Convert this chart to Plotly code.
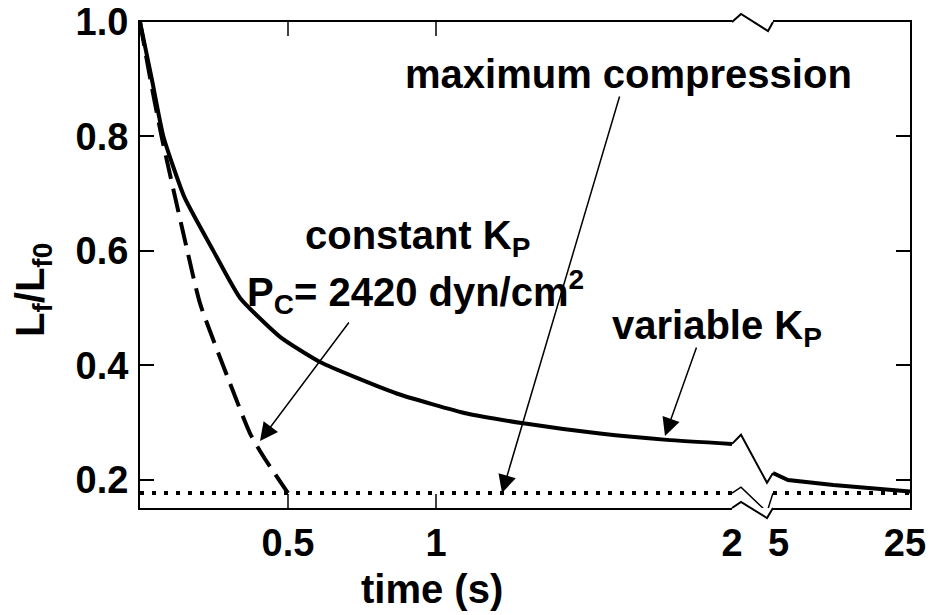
import plotly.graph_objects as go

# ---- data ----
t_var_a = [0, 0.04, 0.079, 0.15, 0.247, 0.338, 0.473, 0.608, 0.867, 1.104, 1.295, 1.554, 1.78, 2.0]
lf_var_a = [1.0, 0.9, 0.8, 0.694, 0.601, 0.518, 0.45, 0.406, 0.351, 0.316, 0.299, 0.281, 0.27, 0.263]
t_var_b = [5, 7.2, 13.8, 19.6, 25]
lf_var_b = [0.212, 0.200, 0.191, 0.186, 0.180]
t_const = [0, 0.035, 0.073, 0.16, 0.203, 0.304, 0.372, 0.417, 0.5]
lf_const = [1.0, 0.9, 0.8, 0.6, 0.508, 0.369, 0.281, 0.241, 0.177]
max_comp = 0.177
t_left_range = [0, 2]
t_right_range = [5, 25]
x_ticks_left = [0.5, 1, 2]
x_ticktext_left = ["0.5", "1", "2"]
x_tickmarks_left = [0.5, 1]
x_ticks_right = [5, 25]
x_ticktext_right = ["&nbsp;&nbsp;5", "25"]
y_ticks = [0.2, 0.4, 0.6, 0.8, 1.0]
y_ticktext = ["0.2", "0.4", "0.6", "0.8", "1.0"]

W, H = 929, 615
L, R, T, B = 140, 19, 22, 107
FONT = "Liberation Sans, Arial, Helvetica, sans-serif"
TICKLEN = 14


def px_x(p):
    return (p - L) / (W - L - R)


def px_y(p):
    return (H - B - p) / (H - T - B)


fig = go.Figure()
blk = "black"
fig.add_trace(go.Scatter(x=t_var_a, y=lf_var_a, xaxis="x", yaxis="y", mode="lines",
                         line=dict(color=blk, width=4, shape="spline", smoothing=0.5)))
fig.add_trace(go.Scatter(x=t_var_b, y=lf_var_b, xaxis="x2", yaxis="y2", mode="lines",
                         line=dict(color=blk, width=4)))
fig.add_trace(go.Scatter(x=t_const, y=lf_const, xaxis="x", yaxis="y", mode="lines",
                         line=dict(color=blk, width=4, dash="24px,10px", shape="spline", smoothing=0.6)))
fig.add_trace(go.Scatter(x=t_left_range, y=[max_comp, max_comp], xaxis="x", yaxis="y", mode="lines",
                         line=dict(color=blk, width=4, dash="4px,8px")))
fig.add_trace(go.Scatter(x=t_right_range, y=[max_comp, max_comp], xaxis="x2", yaxis="y2", mode="lines",
                         line=dict(color=blk, width=4, dash="4px,8px")))

tickfont = dict(family=FONT, size=38, color=blk, weight="bold")
xl_end = px_x(732)
xr_start = px_x(773)

common_x = dict(showline=True, linecolor=blk, linewidth=2, mirror=True, showgrid=False,
                zeroline=False, tickfont=tickfont, ticklabelstandoff=0, ticks="")

fig.update_layout(
    width=W, height=H,
    margin=dict(l=L, r=R, t=T, b=B, autoexpand=False),
    paper_bgcolor="white", plot_bgcolor="white",
    showlegend=False,
    font=dict(family=FONT, color=blk, weight="bold"),
    xaxis=dict(domain=[0, xl_end], range=t_left_range, anchor="y",
               tickmode="array", tickvals=x_ticks_left, ticktext=x_ticktext_left,
               **common_x),
    xaxis2=dict(domain=[xr_start, 1], range=t_right_range, anchor="y2",
                tickmode="array", tickvals=x_ticks_right, ticktext=x_ticktext_right,
                ticklabelshift=-5, **common_x),
    yaxis=dict(domain=[0, 1], range=[0.151, 1.0], anchor="x", side="left",
               tickmode="array", tickvals=y_ticks, ticktext=y_ticktext,
               ticks="inside", ticklen=TICKLEN, tickwidth=1.5, tickcolor=blk,
               showline=True, linecolor=blk, linewidth=2, showgrid=False, zeroline=False,
               tickfont=tickfont, ticklabelstandoff=2),
    yaxis2=dict(domain=[0, 1], matches="y", range=[0.151, 1.0], anchor="x2", side="right",
                tickmode="array", tickvals=y_ticks, showticklabels=False,
                ticks="inside", ticklen=TICKLEN, tickwidth=1.5, tickcolor=blk,
                showline=True, linecolor=blk, linewidth=2, showgrid=False, zeroline=False),
)

shapes = []
# inside tick marks on the bottom and top of the left x axis (only at 0.5 and 1)
tl = TICKLEN / (H - T - B)
for v in x_tickmarks_left:
    shapes.append(dict(type="line", xref="x", yref="paper", x0=v, x1=v, y0=0, y1=tl,
                       line=dict(color=blk, width=1.5)))
    shapes.append(dict(type="line", xref="x", yref="paper", x0=v, x1=v, y0=1, y1=1 - tl,
                       line=dict(color=blk, width=1.5)))
# top frame break
shapes.append(dict(type="path", xref="paper", yref="paper",
                   path=f"M {px_x(732)},{px_y(22)} L {px_x(741)},{px_y(14)} L {px_x(768)},{px_y(31)} L {px_x(773)},{px_y(22)}",
                   line=dict(color=blk, width=2)))
# bottom frame break
shapes.append(dict(type="path", xref="paper", yref="paper",
                   path=f"M {px_x(732)},{px_y(508)} L {px_x(741)},{px_y(502)} L {px_x(767)},{px_y(518)} L {px_x(773)},{px_y(508)}",
                   line=dict(color=blk, width=2)))
# variable Kp curve break
shapes.append(dict(type="path", xref="paper", yref="y",
                   path=f"M {px_x(732)},{lf_var_a[-1]} L {px_x(741)},0.279 L {px_x(767)},0.195 L {px_x(773)},{lf_var_b[0]}",
                   line=dict(color=blk, width=2)))
# max compression line break
shapes.append(dict(type="path", xref="paper", yref="y",
                   path=f"M {px_x(732)},{max_comp} L {px_x(741)},0.1875 L {px_x(767)},0.144 L {px_x(773)},{max_comp}",
                   line=dict(color=blk, width=1.5)))
fig.update_layout(shapes=shapes)

afont = dict(family=FONT, size=40, color=blk, weight="bold")
ann = []
ann.append(dict(text="maximum compression", x=px_x(403), y=px_y(74), xref="paper", yref="paper",
                xanchor="left", yanchor="middle", showarrow=False, font=afont))
ann.append(dict(text="constant K<sub>P</sub>", x=px_x(303), y=px_y(238), xref="paper", yref="paper",
                xanchor="left", yanchor="middle", showarrow=False, font=afont))
ann.append(dict(text="P<sub>C</sub>= 2420 dyn/cm<sup>2</sup>", x=px_x(245), y=px_y(292), xref="paper", yref="paper",
                xanchor="left", yanchor="middle", showarrow=False, font=afont))
ann.append(dict(text="variable K<sub>P</sub>", x=px_x(610), y=px_y(328), xref="paper", yref="paper",
                xanchor="left", yanchor="middle", showarrow=False, font=afont))
# arrows
for (tx, ty, sx, sy) in [(502, 493, 620, 95), (260, 441, 350, 321), (665, 436, 697, 346)]:
    ann.append(dict(text="", x=px_x(tx), y=px_y(ty), xref="paper", yref="paper",
                    ax=sx - tx, ay=sy - ty, axref="pixel", ayref="pixel",
                    showarrow=True, arrowhead=2, arrowsize=2.4, arrowwidth=1.5, arrowcolor=blk,
                    standoff=0, startstandoff=0))
# axis titles
ann.append(dict(text="time (s)", x=px_x(432), y=px_y(589), xref="paper", yref="paper",
                xanchor="center", yanchor="middle", showarrow=False, font=afont))
ann.append(dict(text="L<sub>f</sub>/L<sub>f0</sub>", x=px_x(33), y=px_y(290), xref="paper", yref="paper",
                xanchor="center", yanchor="middle", textangle=-90, showarrow=False, font=afont))
fig.update_layout(annotations=ann)

fig.write_html("out.html")
